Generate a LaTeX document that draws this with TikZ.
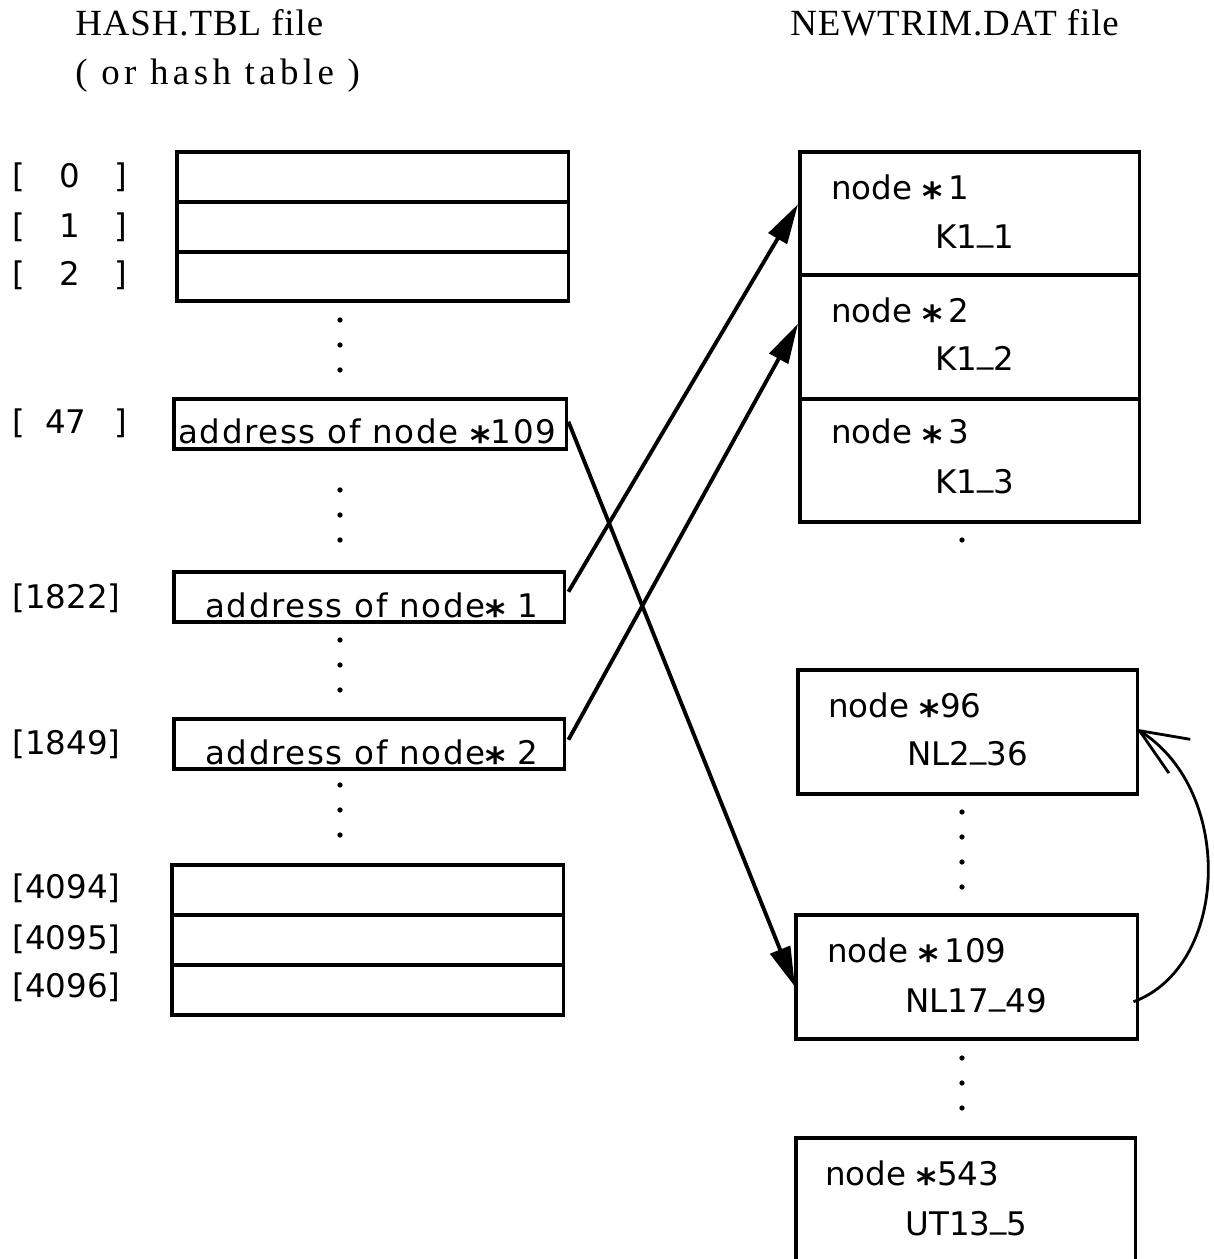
\documentclass[tikz,border=0pt]{standalone}
\usepackage{fontspec}
\setmainfont{DejaVu Sans}
\newfontfamily\hdrfont[LetterSpace=2.5]{Liberation Serif}
\newfontfamily\hdrwidefont[LetterSpace=12]{Liberation Serif}
\newfontfamily\addrfont[LetterSpace=5]{DejaVu Sans}
\usetikzlibrary{arrows.meta,calc}

% heavy star used in the record labels, set low like the printed glyph
\newcommand{\hs}{\raisebox{-0.36em}{\fontsize{22}{22}\selectfont\bfseries *}}
% underscore sitting on the baseline
\newcommand{\us}{\raisebox{0.24em}{\_}}

\tikzset{
  slot/.style={draw, line width=2pt, rectangle, inner sep=0pt, anchor=north west},
  txt/.style={inner sep=0pt, anchor=base west, font=\fontsize{18.5}{22}\selectfont},
  addr/.style={inner sep=0pt, anchor=base west, font=\addrfont\fontsize{18.5}{22}\selectfont},
  hdr/.style={inner sep=0pt, anchor=base west, font=\hdrfont\fontsize{21}{25}\selectfont},
  dotmark/.style={fill=black},
  link/.style={line width=2.2pt, -{Triangle[length=0.8cm,width=0.42cm]}},
  backlink/.style={line width=1.6pt, -{Straight Barb[length=0.95cm,width=0.8cm,line width=1.6pt]}}
}

\begin{document}
\begin{tikzpicture}[x=0.02cm, y=-0.02cm]
\useasboundingbox (0,0) rectangle (1214,1259);

% headings
\node[hdr] (hashtitle) at (75,35) {HASH.TBL file};
\node[hdr, font=\hdrwidefont\fontsize{21}{25}\selectfont] (hashsub) at (75,84) {( or hash table )};
\node[hdr] (trimtitle) at (790,35) {NEWTRIM.DAT file};

% hash table slots
\node[slot, minimum width=7.84cm, minimum height=1.00cm] (h0) at (175,150) {};
\node[slot, minimum width=7.84cm, minimum height=1.00cm] (h1) at (175,200) {};
\node[slot, minimum width=7.84cm, minimum height=0.98cm] (h2) at (175,250) {};
\node[slot, minimum width=7.86cm, minimum height=1.00cm] (h47) at (172,397) {};
\node[slot, minimum width=7.82cm, minimum height=1.00cm] (h1822) at (172,570) {};
\node[slot, minimum width=7.82cm, minimum height=1.00cm] (h1849) at (172,717) {};
\node[slot, minimum width=7.84cm, minimum height=1.00cm] (h4094) at (170,863) {};
\node[slot, minimum width=7.84cm, minimum height=1.00cm] (h4095) at (170,913) {};
\node[slot, minimum width=7.84cm, minimum height=1.00cm] (h4096) at (170,963) {};

% slot contents
\node[addr] (a47) at (178,443) {address of node \hs109};
\node[addr] (a1822) at (205,617) {address of node\hs{} 1};
\node[addr] (a1849) at (205,764) {address of node\hs{} 2};

% slot indices
\node[txt] (i0) at (12,187) {\makebox[2.3cm][l]{[\hfill 0\hfill ]}};
\node[txt] (i1) at (12,237) {\makebox[2.3cm][l]{[\hfill 1\hfill ]}};
\node[txt] (i2) at (12,285) {\makebox[2.3cm][l]{[\hfill 2\hfill ]}};
\node[txt] (i47) at (12,433) {\makebox[2.3cm][l]{[\hspace{0.4cm}47\hfill ]}};
\node[txt] (i1822) at (12,608) {[1822]};
\node[txt] (i1849) at (12,754) {[1849]};
\node[txt] (i4094) at (12,898) {[4094]};
\node[txt] (i4095) at (12,949) {[4095]};
\node[txt] (i4096) at (12,997) {[4096]};

% elided slots
\foreach \yy in {320,345,370, 490,515,540, 640,665,690, 785,810,835}
  \fill[dotmark] (340,\yy) circle[radius=1.5pt];

% records of the data file
\node[slot, minimum width=6.80cm, minimum height=2.46cm] (n1) at (798,150) {};
\node[slot, minimum width=6.80cm, minimum height=2.48cm] (n2) at (798,273) {};
\node[slot, minimum width=6.80cm, minimum height=2.46cm] (n3) at (798,397) {};
\node[slot, minimum width=6.80cm, minimum height=2.48cm] (n96) at (796,668) {};
\node[slot, minimum width=6.84cm, minimum height=2.48cm] (n109) at (794,913) {};
\node[slot, minimum width=6.80cm, minimum height=2.80cm] (n543) at (794,1136) {};

\node[txt] (l1) at (831,199) {node \hs\,1};
\node[txt] (k1) at (935,248) {K1\us1};
\node[txt] (l2) at (831,322) {node \hs\,2};
\node[txt] (k2) at (935,370) {K1\us2};
\node[txt] (l3) at (831,443) {node \hs\,3};
\node[txt] (k3) at (935,493) {K1\us3};
\node[txt] (l96) at (828,717) {node \hs96};
\node[txt] (k96) at (907,765) {NL2\us36};
\node[txt] (l109) at (827,962) {node \hs\,109};
\node[txt] (k109) at (905,1012) {NL17\us49};
\node[txt] (l543) at (825,1185) {node \hs543};
\node[txt] (k543) at (905,1235) {UT13\us5};

% elided records
\foreach \yy in {540, 812,837,862,887, 1058,1083,1108}
  \fill[dotmark] (962,\yy) circle[radius=1.5pt];

% hash slots pointing at records
\draw[link] ($(h1822.east)+(2,-5)$) -- ($(n1.west)+(0,-9)$);
\draw[link] ($(h1849.east)+(2,-4)$) -- ($(n2.west)+(0,-13)$);
\draw[link] ($(h47.east)+(0,-2)$) -- ($(n109.west)+(1,10)$);

% chain link from record 109 back to record 96
\draw[backlink] ($(n109.east)+(-6,25)$)
  .. controls ($(n109.east)+(89,-10)$) and ($(n96.east)+(96,60)$)
  .. ($(n96.east)+(-3,-3)$);
\end{tikzpicture}
\end{document}
